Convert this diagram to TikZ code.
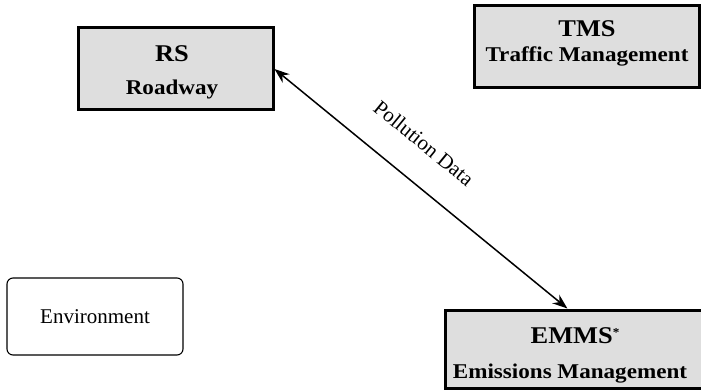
\documentclass[tikz,border=0pt]{standalone}
\usepackage{fontspec}
\setmainfont{Liberation Serif}
\newfontfamily\boxfont{Liberation Serif}[FakeStretch=1.1]
\usetikzlibrary{arrows.meta,calc}
\begin{document}
\begin{tikzpicture}[x=1pt,y=-1pt,
  sysbox/.style={draw, line width=3pt, fill=black!13, inner sep=0pt},
  ttl/.style={anchor=base, inner sep=0pt, font=\boxfont\bfseries\fontsize{24}{24}\selectfont},
  sub/.style={anchor=base, inner sep=0pt, font=\boxfont\bfseries\fontsize{21}{21}\selectfont},
  envbox/.style={draw, line width=1.1pt, rounded corners=6pt, inner sep=0pt, font=\fontsize{21}{21}\selectfont},
  flow/.style={line width=1.5pt, {Stealth[length=15pt,width=11pt]}-{Stealth[length=15pt,width=11pt]}}
]
\useasboundingbox (0,0) rectangle (701,390);
\clip (0,0) rectangle (701,390);
\fill[white] (0,0) rectangle (701,390);

% RS
\node[sysbox, minimum width=195pt, minimum height=82pt] (RS) at (175.5,69) {};
\node[ttl] (RSt) at (172,62) {RS};
\node[sub] (RSs) at (172,95) {Roadway};

% TMS
\node[sysbox, minimum width=225pt, minimum height=82pt] (TMS) at (586.5,47) {};
\node[ttl] (TMSt) at (587,37) {TMS};
\node[sub] (TMSs) at (587,62) {Traffic Management};

% EMMS
\node[sysbox, minimum width=265pt, minimum height=78pt] (EMMS) at (577.5,349) {};
\node[ttl] (EMMSt) at (575,343) {EMMS\raisebox{7pt}{\fontsize{12}{12}\selectfont *}};
\node[sub] (EMMSs) at (570,378) {Emissions Management};

% Environment
\node[envbox, minimum width=176pt, minimum height=77pt] (ENV) at (95,316.5) {Environment};

% connector
\draw[flow] (RS.east) -- (EMMS.104)
  node[pos=0.43, sloped, anchor=south, inner xsep=0pt, inner ysep=29pt, font=\fontsize{21}{21}\selectfont] (PD) {Pollution Data};
\end{tikzpicture}
\end{document}
